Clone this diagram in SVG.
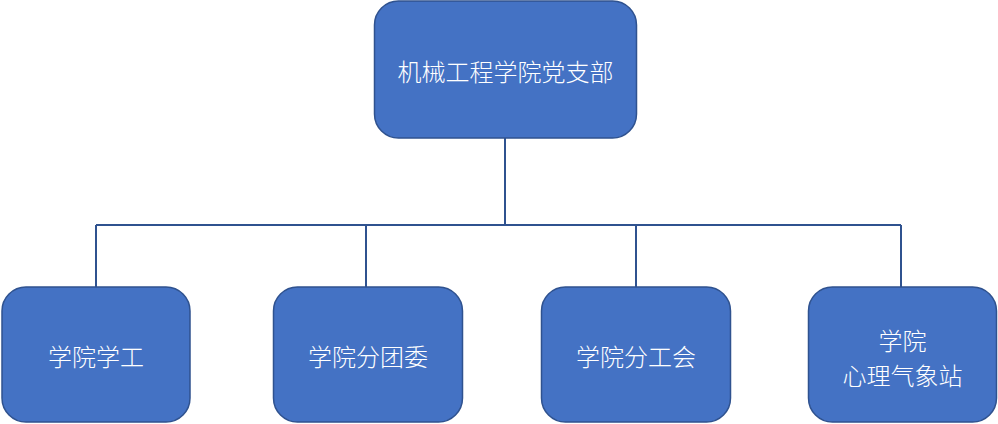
<svg xmlns="http://www.w3.org/2000/svg" width="998" height="424" viewBox="0 0 998 424">
<style>
.box{fill:#4472C4;stroke:#2F528F;stroke-width:1.5}
.t{fill:#fff;font-family:"Noto Sans CJK SC","Noto Sans",sans-serif;font-size:24px;font-weight:300;text-anchor:middle;dominant-baseline:central}
.c{fill:none;stroke:#2F528F;stroke-width:2}
</style>
<rect width="998" height="424" fill="#fff"/>
<g id="connectors">
<path class="c" d="M505 138V225M96 225H901M96 225V287M366 225V287M636 225V287M901 225V287"/>
</g>
<g id="root">
<rect class="box" x="374.5" y="1" width="262" height="137" rx="24"/>
<text class="t" x="505.5" y="70">机械工程学院党支部</text>
</g>
<g id="n1">
<rect class="box" x="2" y="287" width="188" height="135" rx="24"/>
<text class="t" x="96" y="355">学院学工</text>
</g>
<g id="n2">
<rect class="box" x="273.5" y="287" width="189" height="135" rx="24"/>
<text class="t" x="368" y="355">学院分团委</text>
</g>
<g id="n3">
<rect class="box" x="541.5" y="287" width="189" height="135" rx="24"/>
<text class="t" x="636" y="355">学院分工会</text>
</g>
<g id="n4">
<rect class="box" x="808.5" y="287" width="188" height="135" rx="24"/>
<text class="t" x="902.5" y="339">学院</text>
<text class="t" x="902.5" y="374">心理气象站</text>
</g>
</svg>
